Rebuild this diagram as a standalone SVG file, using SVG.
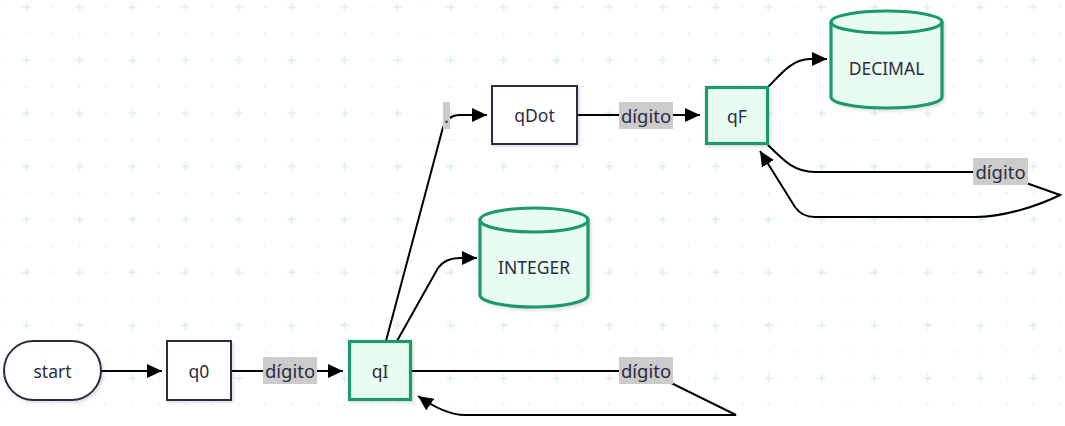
<svg xmlns="http://www.w3.org/2000/svg" width="1065" height="426" viewBox="0 0 1065 426">
<defs>
<pattern id="grid" patternUnits="userSpaceOnUse" x="-13.25" y="-32.45" width="53" height="53">
<circle cx="13.25" cy="13.25" r="1" fill="#e3e9ec"/>
<circle cx="39.75" cy="13.25" r="1" fill="#e3e9ec"/>
<circle cx="13.25" cy="39.75" r="1" fill="#e3e9ec"/>
<path d="M39.75,35.5 V44 M35.5,39.75 H44" stroke="#dbecf2" stroke-width="1.4"/>
</pattern>
<marker id="arr" markerUnits="userSpaceOnUse" markerWidth="16" markerHeight="14" refX="15" refY="7" orient="auto">
<path d="M0,0 L15,7 L0,14 z" fill="#000"/>
</marker>
<filter id="sh" x="-10%" y="-10%" width="130%" height="130%">
<feDropShadow dx="2" dy="2" stdDeviation="1.5" flood-color="#000" flood-opacity="0.12"/>
</filter>
</defs>
<style>
.plain{fill:#fff;stroke:#2d2b40;stroke-width:2;filter:url(#sh)}
.acc{fill:#e8fcf2;stroke:#1a9a6c;stroke-width:3.2;filter:url(#sh)}
.t{font-family:"Noto Sans","DejaVu Sans",sans-serif;font-size:17.5px;fill:#2b2d42;text-anchor:middle;dominant-baseline:central}
.e{fill:none;stroke:#000;stroke-width:2;marker-end:url(#arr)}
.lb{fill:#cccccc}
.lt{font-family:"Noto Sans","DejaVu Sans",sans-serif;font-size:18.5px;fill:#2b2d42;text-anchor:middle;dominant-baseline:central}
</style>
<rect width="1065" height="426" fill="#fff"/>
<rect width="1065" height="426" fill="url(#grid)"/>

<g id="connectors">
<path class="e" d="M101,371 L162,371"/>
<path class="e" d="M231,371 L343,371"/>
<path class="e" d="M386,341 L442,131 Q446,115 460,115 L487,115"/>
<path class="e" d="M577,115 L700,115"/>
<path class="e" d="M768,87 C780,75 792,59 810,59 L827,59"/>
<path class="e" d="M397,341 L438,268 Q445,258 460,258 L477,258"/>
<path class="e" d="M411,371 L647,371 L736,415 L465,415 Q445,415 418,396"/>
<path class="e" d="M768,145 C785,162 795,172 815,172 L995,172 L1060,195 C1040,205 1005,217 975,217 L815,217 Q802,217 795,207 L760,151"/>
<g id="edge-labels">
<rect class="lb" x="263" y="357" width="54" height="27"/>
<text class="lt" x="290" y="370.5">dígito</text>
<rect class="lb" x="443" y="102" width="7" height="27"/>
<text class="lt" x="446.5" y="115.5">.</text>
<rect class="lb" x="619" y="102" width="54" height="27"/>
<text class="lt" x="646" y="115.5">dígito</text>
<rect class="lb" x="619" y="357" width="54" height="27"/>
<text class="lt" x="646" y="370.5">dígito</text>
<rect class="lb" x="973" y="158" width="55" height="27"/>
<text class="lt" x="1000.5" y="171.5">dígito</text>
</g>
</g>

<g id="start">
<rect class="plain" x="4" y="341" width="97" height="59" rx="29.5"/>
<text class="t" x="52.5" y="370.5">start</text>
</g>
<g id="q0">
<rect class="plain" x="167" y="341" width="64" height="59"/>
<text class="t" x="199" y="370.5">q0</text>
</g>
<g id="qI">
<rect class="acc" x="349.5" y="341.5" width="61" height="58"/>
<text class="t" x="380" y="370.5">qI</text>
</g>
<g id="qDot">
<rect class="plain" x="492" y="86" width="85" height="58"/>
<text class="t" x="534.5" y="115">qDot</text>
</g>
<g id="qF">
<rect class="acc" x="706.5" y="87.5" width="61" height="56"/>
<text class="t" x="737" y="115.5">qF</text>
</g>
<g id="DECIMAL">
<path class="acc" d="M831,22 L831,97 A55.5,11 0 0 0 942,97 L942,22 A55.5,11 0 0 0 831,22 Z"/>
<path d="M831,22 A55.5,11 0 0 0 942,22" fill="none" stroke="#1a9a6c" stroke-width="3.2"/>
<text class="t" x="886.5" y="68">DECIMAL</text>
</g>
<g id="INTEGER">
<path class="acc" d="M480,220 L480,295 A54,12 0 0 0 588,295 L588,220 A54,12 0 0 0 480,220 Z"/>
<path d="M480,220 A54,12 0 0 0 588,220" fill="none" stroke="#1a9a6c" stroke-width="3.2"/>
<text class="t" x="534" y="267">INTEGER</text>
</g>
</svg>
